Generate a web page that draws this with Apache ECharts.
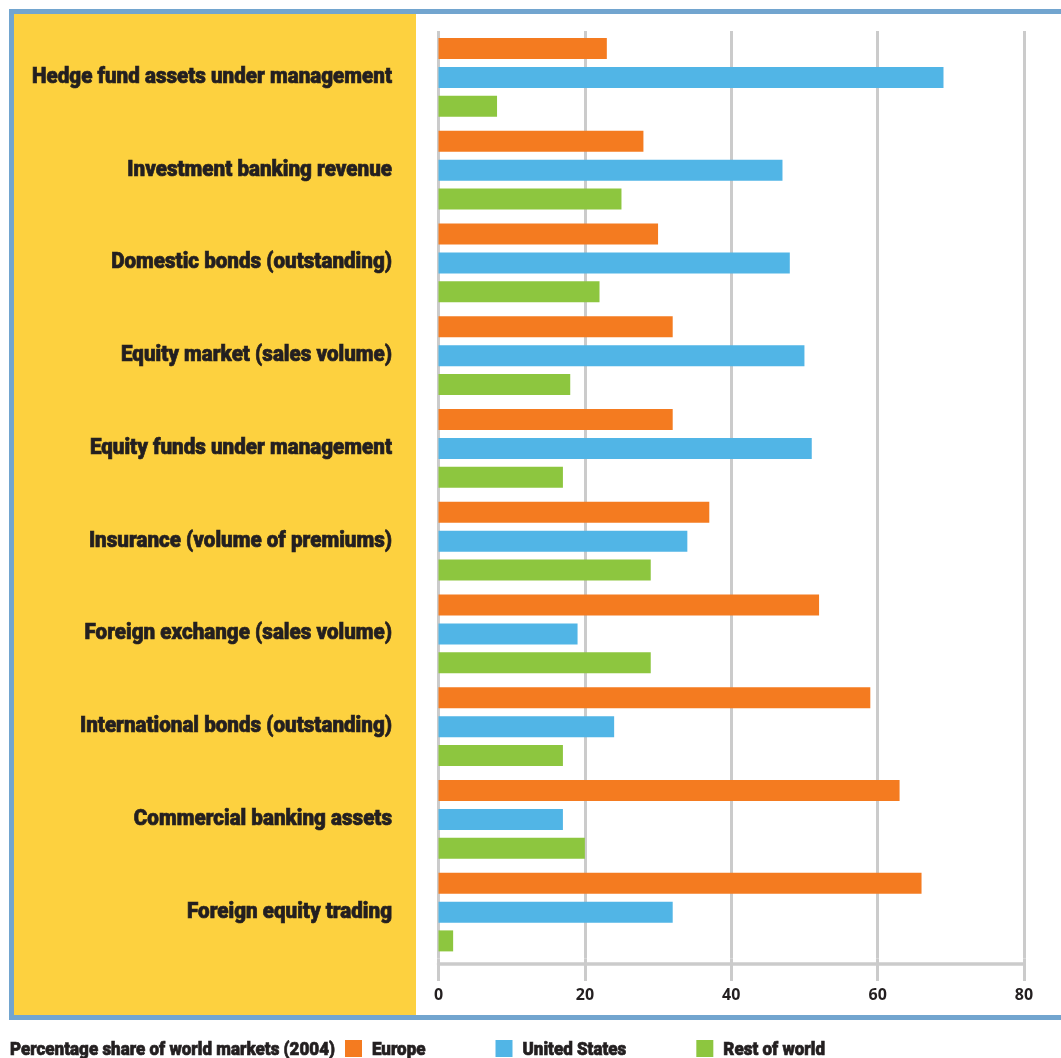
<!DOCTYPE html>
<html>
<head>
<meta charset="utf-8">
<script src="https://cdn.jsdelivr.net/npm/echarts@6/dist/echarts.min.js"></script>
<style>
  html, body { margin: 0; padding: 0; background: #ffffff; }
  #chart { width: 1061px; height: 1058px; }
</style>
</head>
<body>
<div id="chart"></div>
<script>
// Market categories, top to bottom
const categories = [
  'Hedge fund assets under management',
  'Investment banking revenue',
  'Domestic bonds (outstanding)',
  'Equity market (sales volume)',
  'Equity funds under management',
  'Insurance (volume of premiums)',
  'Foreign exchange (sales volume)',
  'International bonds (outstanding)',
  'Commercial banking assets',
  'Foreign equity trading'
];

// Percentage share of world markets, 2004
const europe       = [23, 28, 30, 32, 32, 37, 52, 59, 63, 66];
const unitedStates = [69, 47, 48, 50, 51, 34, 19, 24, 17, 32];
const restOfWorld  = [8, 25, 22, 18, 17, 29, 29, 17, 20, 2];

const seriesNames = ['Europe', 'United States', 'Rest of world'];
const seriesColors = ['#f47b20', '#51b5e6', '#8dc63f'];
const captionText = 'Percentage share of world markets (2004)';

const xTicks = [0, 20, 40, 60, 80];

const ink = '#231f20';
const gridGrey = '#cbcbcb';
const headFamily = 'Roboto, "Liberation Sans", sans-serif';
const labelFont = '900 22px ' + headFamily;
const legendFont = '900 19px ' + headFamily;
const tickFont = '"Open Sans", "Liberation Sans", sans-serif';

// Condensed look: squeeze the heavy sans horizontally by a fixed factor
const measureCtx = document.createElement('canvas').getContext('2d');
function textWidth(text, font) {
  measureCtx.font = font;
  return measureCtx.measureText(text).width;
}
const squeeze = 360 / textWidth(categories[0], labelFont);
const legendSqueeze = 325 / textWidth(captionText, legendFont);

// heavier strokes for the black display type
function heavyText(text, font) {
  return {
    text: text, font: font, fill: ink,
    stroke: ink, lineWidth: 0.7,
    verticalAlign: 'middle'
  };
}

// Legend row along the bottom edge
const legendY = 1050;
const legendItems = [];
let cursor = 10;
legendItems.push({
  type: 'text', z: 5, x: cursor, y: legendY, scaleX: legendSqueeze,
  style: Object.assign(heavyText(captionText, legendFont), { align: 'left' })
});
cursor += textWidth(captionText, legendFont) * legendSqueeze + 10;
seriesNames.forEach(function (name, i) {
  legendItems.push({
    type: 'rect', z: 5,
    shape: { x: cursor, y: 1040, width: 17, height: 17 },
    style: { fill: seriesColors[i] }
  });
  cursor += 17 + 10;
  legendItems.push({
    type: 'text', z: 5, x: cursor, y: legendY, scaleX: legendSqueeze,
    style: Object.assign(heavyText(name, legendFont), { align: 'left' })
  });
  cursor += textWidth(name, legendFont) * legendSqueeze + 70;
});

const chart = echarts.init(document.getElementById('chart'), null, { renderer: 'canvas' });

function barSeries(name, data, color) {
  return {
    name: name,
    type: 'bar',
    data: data,
    barWidth: 21,
    barGap: '37%',
    itemStyle: { color: color },
    emphasis: { disabled: true },
    silent: true
  };
}

chart.setOption({
  animation: false,
  backgroundColor: '#ffffff',
  graphic: [
    // framed panel: blue frame, yellow label column
    {
      type: 'rect', z: -20,
      shape: { x: 11.5, y: 11.5, width: 1070, height: 1006 },
      style: { fill: '#ffffff', stroke: '#72a5cf', lineWidth: 5 }
    },
    {
      type: 'rect', z: -10,
      shape: { x: 14, y: 14, width: 402, height: 1001 },
      style: { fill: '#fdd13f' }
    }
  ].concat(legendItems),
  grid: {
    left: 438.5,
    right: 37,
    top: 31,
    bottom: 99.5,
    containLabel: false,
    outerBoundsMode: 'none'
  },
  xAxis: [
    {
      type: 'value',
      position: 'bottom',
      offset: 5.5,
      min: xTicks[0],
      max: xTicks[xTicks.length - 1],
      interval: 20,
      axisLine: { show: true, lineStyle: { color: gridGrey, width: 3.5 } },
      axisTick: { show: false },
      splitLine: { show: false },
      axisLabel: {
        margin: 23,
        color: ink,
        fontFamily: tickFont,
        fontWeight: 'bold',
        fontSize: 16
      }
    },
    {
      type: 'value',
      position: 'bottom',
      offset: 0,
      min: xTicks[0],
      max: xTicks[xTicks.length - 1],
      interval: 20,
      axisLine: { show: false },
      axisTick: { show: true, length: 22.5, lineStyle: { color: gridGrey, width: 3 } },
      axisLabel: { show: false },
      splitLine: { show: true, lineStyle: { color: gridGrey, width: 3 } }
    }
  ],
  yAxis: {
    type: 'category',
    inverse: true,
    data: categories,
    axisLine: { show: false },
    axisTick: { show: false },
    splitLine: { show: false },
    axisLabel: { show: false }
  },
  series: [
    barSeries(seriesNames[0], europe, seriesColors[0]),
    barSeries(seriesNames[1], unitedStates, seriesColors[1]),
    barSeries(seriesNames[2], restOfWorld, seriesColors[2]),
    {
      // category names, right-aligned in the yellow column, condensed
      type: 'custom',
      name: 'category labels',
      silent: true,
      clip: false,
      z: 5,
      data: categories.map(function (c, i) { return [0, i]; }),
      encode: { x: 0, y: 1 },
      renderItem: function (params, api) {
        const y = api.coord([0, api.value(1)])[1];
        return {
          type: 'text',
          x: 392,
          y: y,
          scaleX: squeeze,
          style: Object.assign(heavyText(categories[params.dataIndex], labelFont), { align: 'right' })
        };
      }
    }
  ]
});
</script>
</body>
</html>
